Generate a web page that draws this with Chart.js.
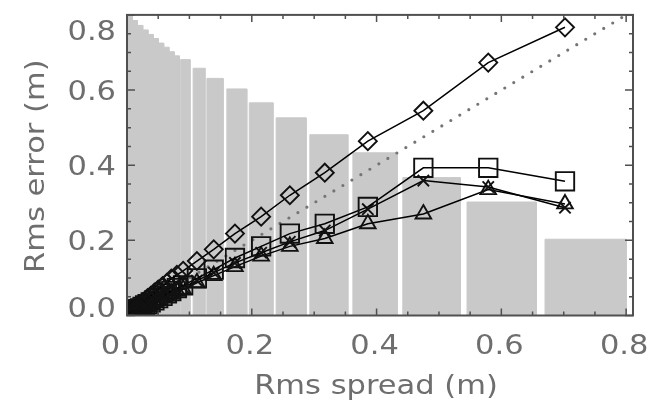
<!DOCTYPE html>
<html>
<head>
<meta charset="utf-8">
<script src="https://cdn.jsdelivr.net/npm/chart.js@4/dist/chart.umd.min.js"></script>
<style>
  html, body { margin: 0; padding: 0; background: #fff; }
  #wrap { width: 650px; height: 402px; }
</style>
</head>
<body>
<div id="wrap"><canvas id="c" width="650" height="402"></canvas></div>
<script>
// Mean ensemble spread per bin (m), shared by all four curves
const spread = [0.002, 0.004, 0.006, 0.008, 0.010, 0.012, 0.015, 0.018, 0.021, 0.025,
                0.029, 0.033, 0.038, 0.044, 0.050, 0.057, 0.064, 0.071, 0.080, 0.090,
                0.112, 0.139, 0.173, 0.215, 0.261, 0.317, 0.386, 0.475, 0.579, 0.702];

// Rms error (m) for each curve
const errDiamond  = [0.003, 0.006, 0.008, 0.011, 0.014, 0.017, 0.021, 0.025, 0.029, 0.035,
                     0.040, 0.046, 0.052, 0.061, 0.069, 0.078, 0.087, 0.098, 0.108, 0.119,
                     0.145, 0.176, 0.218, 0.263, 0.320, 0.380, 0.464, 0.545, 0.673, 0.767];
const errSquare   = [0.002, 0.004, 0.006, 0.007, 0.009, 0.011, 0.014, 0.017, 0.019, 0.023,
                     0.027, 0.030, 0.035, 0.040, 0.046, 0.052, 0.059, 0.065, 0.073, 0.080,
                     0.099, 0.122, 0.153, 0.184, 0.218, 0.244, 0.289, 0.393, 0.393, 0.357];
const errCross    = [0.002, 0.003, 0.005, 0.007, 0.009, 0.010, 0.013, 0.015, 0.018, 0.021,
                     0.025, 0.028, 0.033, 0.038, 0.043, 0.049, 0.055, 0.061, 0.068, 0.075,
                     0.093, 0.114, 0.140, 0.167, 0.196, 0.226, 0.283, 0.359, 0.342, 0.287];
const errTriangle = [0.002, 0.003, 0.005, 0.007, 0.008, 0.010, 0.012, 0.015, 0.017, 0.020,
                     0.024, 0.027, 0.031, 0.036, 0.041, 0.047, 0.052, 0.058, 0.065, 0.070,
                     0.087, 0.106, 0.130, 0.158, 0.184, 0.205, 0.244, 0.270, 0.335, 0.297];

// Background histogram of spread: bin edges and bar heights (scaled to the y axis)
const binLo     = [0.000, 0.0084, 0.0168, 0.0252, 0.0336, 0.042, 0.0504, 0.0588, 0.0672, 0.0756,
                   0.086, 0.106, 0.128, 0.160, 0.196, 0.239, 0.293, 0.362, 0.442, 0.545, 0.670];
const binHi     = [0.0084, 0.0168, 0.0252, 0.0336, 0.042, 0.0504, 0.0588, 0.0672, 0.0756, 0.084,
                   0.101, 0.125, 0.154, 0.192, 0.234, 0.287, 0.354, 0.433, 0.534, 0.656, 0.800];
const binHeight = [0.810, 0.785, 0.772, 0.760, 0.748, 0.737, 0.725, 0.714, 0.702, 0.691,
                   0.681, 0.658, 0.631, 0.603, 0.566, 0.526, 0.481, 0.433, 0.367, 0.302, 0.203];

// Axis ticks and titles
const xTicks = [0.0, 0.2, 0.4, 0.6, 0.8];
const xTickLabels = ['0.0', '0.2', '0.4', '0.6', '0.8'];
const yTicks = [0.0, 0.2, 0.4, 0.6, 0.8];
const yTickLabels = ['0.0', '0.2', '0.4', '0.6', '0.8'];
const minorStep = 0.05;
const xTitle = 'Rms spread (m)';
const yTitle = 'Rms error (m)';

const INK = '#6e6e6e';
const AXIS = '#505050';
const BAR = '#c9c9c9';
const FONT = '27px "DejaVu Sans", sans-serif';
const STRETCH = 1.13;

function pts(xs, ys) { return xs.map((x, i) => ({ x: x, y: ys[i] })); }

function series(ys, style, radius) {
  return {
    data: pts(spread, ys),
    borderColor: '#000',
    borderWidth: 1.5,
    pointStyle: style,
    pointRadius: radius,
    pointBorderWidth: 1.9,
    pointBorderColor: '#111',
    pointBackgroundColor: 'rgba(0,0,0,0)',
    fill: false,
    tension: 0,
    clip: 0,
    order: 0
  };
}

const datasets = [
  series(errDiamond, 'rectRot', 9),
  series(errSquare, 'rect', 13),
  series(errCross, 'crossRot', 8),
  series(errTriangle, 'triangle', 9),
  {
    // one-to-one reference line
    data: [{ x: 0, y: 0 }, { x: 0.8, y: 0.8 }],
    borderColor: '#757575',
    borderWidth: 3.2,
    borderDash: [0, 10.5],
    borderCapStyle: 'round',
    pointRadius: 0,
    fill: false,
    clip: 0,
    order: 1
  }
];

// Histogram outlines: bins that touch are joined into one stepped polygon
let outline = null;
binLo.forEach((lo, i) => {
  const hi = binHi[i], h = binHeight[i];
  const touching = i > 0 && Math.abs(binHi[i - 1] - lo) < 1e-9;
  if (!touching) {
    outline = [{ x: lo, y: 0 }];
    datasets.push({
      data: outline,
      borderColor: BAR,
      borderWidth: 1,
      backgroundColor: BAR,
      fill: 'origin',
      pointRadius: 0,
      tension: 0,
      clip: 0,
      order: 2
    });
  } else {
    outline.pop();
  }
  outline.push({ x: lo, y: h }, { x: hi, y: h }, { x: hi, y: 0 });
});

function drawText(ctx, str, x, y, align, rot) {
  ctx.save();
  ctx.translate(x, y);
  if (rot) ctx.rotate(rot);
  ctx.scale(STRETCH, 1);
  ctx.font = FONT;
  ctx.fillStyle = INK;
  ctx.textAlign = align;
  ctx.textBaseline = 'alphabetic';
  ctx.fillText(str, 0, 0);
  ctx.restore();
}

// Box frame, inward ticks on all four sides, tick labels and axis titles
const framePlugin = {
  id: 'frame',
  afterDraw(chart) {
    const ctx = chart.ctx;
    const a = chart.chartArea;
    const xs = chart.scales.x, ys = chart.scales.y;
    ctx.save();
    ctx.strokeStyle = AXIS;
    ctx.lineWidth = 1.5;
    ctx.beginPath();
    for (let v = 0; v <= 0.8 + 1e-9; v += minorStep) {
      const major = xTicks.some(t => Math.abs(t - v) < 1e-6);
      const len = major ? 7 : 4;
      const px = xs.getPixelForValue(v);
      ctx.moveTo(px, a.bottom); ctx.lineTo(px, a.bottom - len);
      ctx.moveTo(px, a.top); ctx.lineTo(px, a.top + len);
      const majorY = yTicks.some(t => Math.abs(t - v) < 1e-6);
      const leny = majorY ? 8 : 4;
      const py = ys.getPixelForValue(v);
      ctx.moveTo(a.left, py); ctx.lineTo(a.left + leny, py);
      ctx.moveTo(a.right, py); ctx.lineTo(a.right - leny, py);
    }
    ctx.stroke();
    ctx.lineWidth = 2;
    ctx.strokeRect(a.left, a.top, a.right - a.left, a.bottom - a.top);
    ctx.restore();

    xTicks.forEach((t, i) => {
      drawText(ctx, xTickLabels[i], xs.getPixelForValue(t) - 2, 354, 'center');
    });
    yTicks.forEach((t, i) => {
      let cy = ys.getPixelForValue(t);
      cy = Math.min(Math.max(cy, a.top + 15.5), a.bottom - 8.5);
      drawText(ctx, yTickLabels[i], 116, cy + 10, 'right');
    });
    drawText(ctx, xTitle, (a.left + a.right) / 2 - 4, 394, 'center');
    drawText(ctx, yTitle, 44, (a.top + a.bottom) / 2 + 1, 'center', -Math.PI / 2);
  }
};

new Chart(document.getElementById('c'), {
  type: 'line',
  data: { datasets: datasets },
  options: {
    responsive: false,
    animation: false,
    devicePixelRatio: 1,
    events: [],
    layout: { padding: { left: 127, right: 17, top: 9.5, bottom: 86.5 } },
    plugins: { legend: { display: false }, tooltip: { enabled: false } },
    scales: {
      x: {
        type: 'linear', min: 0, max: 0.811,
        ticks: { display: false },
        grid: { display: false, drawTicks: false },
        border: { display: false },
        afterFit(s) { s.height = 0; }
      },
      y: {
        type: 'linear', min: 0, max: 0.8,
        ticks: { display: false },
        grid: { display: false, drawTicks: false },
        border: { display: false },
        afterFit(s) { s.width = 0; }
      }
    }
  },
  plugins: [framePlugin]
});
</script>
</body>
</html>
